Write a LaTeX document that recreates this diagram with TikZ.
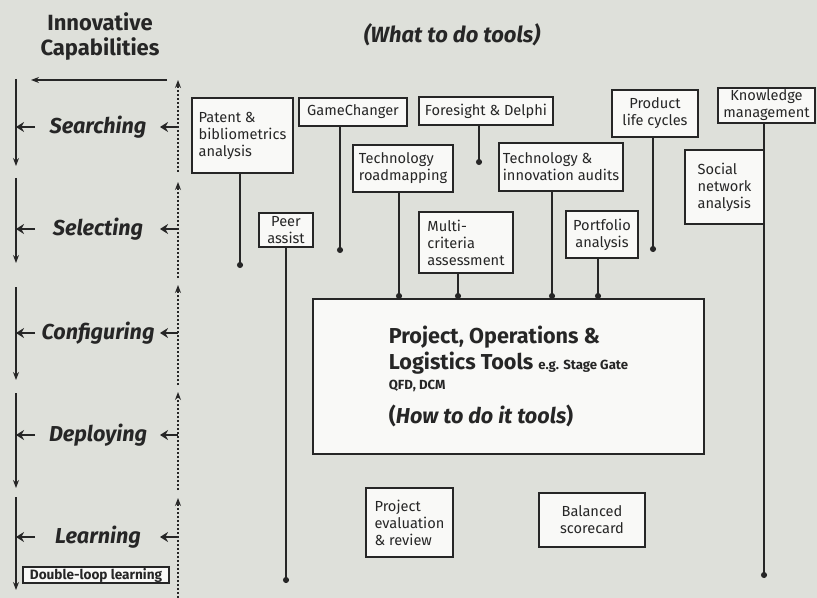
\documentclass[tikz,border=0pt]{standalone}
\usepackage{fontspec}
\setmainfont{Fira Sans}
\usetikzlibrary{arrows.meta}
\definecolor{PaperGray}{RGB}{222,224,218}
\definecolor{BoxWhite}{RGB}{249,249,247}
\definecolor{InkGray}{RGB}{38,38,38}

\begin{document}
\begin{tikzpicture}[
 x=0.5pt, y=-0.5pt,
 tool/.style={draw=InkGray, line width=0.6pt, fill=BoxWhite, text=InkGray, inner sep=1pt, font=\fontsize{7.3}{8.5}\selectfont},
 stem/.style={draw=InkGray, line width=0.7pt, -{Circle[length=3pt]}},
 stage/.style={text=InkGray, font=\fontsize{10.8}{12}\selectfont\bfseries\itshape},
 down/.style={draw=InkGray, line width=0.6pt, -{Stealth[length=4pt,width=3pt]}},
 up/.style={draw=InkGray, line width=0.6pt, dash pattern=on 1.2pt off 0.8pt, -{Stealth[length=4pt,width=3pt]}},
 point/.style={draw=InkGray, line width=1.3pt, -{Stealth[length=4pt,width=5pt]}}
]
\fill[PaperGray] (0,0) rectangle (817,598);
\useasboundingbox (0,0) rectangle (817,598);

% headings
\node[text=InkGray, font=\fontsize{11}{12.5}\selectfont\bfseries, align=center] (capab) at (100,37) {Innovative\\Capabilities};
\node[text=InkGray, font=\fontsize{11}{12}\selectfont\bfseries\itshape] (whattodo) at (452,35) {(What to do tools)};

% capability column
\coordinate (topstart) at (167,80);
\coordinate (topend) at (31,80);
\draw[down] (topstart) -- (topend);
\foreach \a/\b in {79/166, 178/263, 287/380, 393/488, 497/590} {
  \coordinate (ltop\a) at (16,\a);
  \coordinate (lbot\a) at (16,\b);
  \draw[down] (ltop\a) -- (lbot\a);
}
\foreach \a/\b in {598/498, 490/392, 385/285, 278/182, 172/80} {
  \coordinate (rbot\a) at (178,\a);
  \coordinate (rtop\a) at (178,\b);
  \draw[up] (rbot\a) -- (rtop\a);
}
\foreach \name/\word/\y in {search/Searching/127, select/Selecting/229, config/Configuring/333, deploy/Deploying/435, learn/Learning/537} {
  \node[stage] (\name) at (98,\y) {\word};
  \coordinate (l\name) at (16,\y);
  \coordinate (r\name) at (178,\y);
  \draw[point] ([xshift=9.5pt]l\name) -- (l\name);
  \draw[point] (r\name) -- ([xshift=-9pt]r\name);
}
\node[tool, font=\fontsize{6.8}{7}\selectfont\bfseries, minimum width=73pt, minimum height=8pt, inner sep=0pt] (dloop) at (96,575) {Double-loop learning};

% what to do tools
\node[tool, align=left, minimum width=50.5pt, minimum height=37.5pt] (patent) at (242.5,135.5) {Patent \&\\bibliometrics\\analysis};
\node[tool, minimum width=54pt, minimum height=14pt] (gamechanger) at (353,112) {GameChanger};
\node[tool, minimum width=67pt, minimum height=14pt] (foresight) at (486,111) {Foresight \& Delphi};
\node[tool, align=left, minimum width=50pt, minimum height=23.5pt] (roadmap) at (403,168.5) {Technology\\roadmapping};
\node[tool, align=center, minimum width=27pt, minimum height=17pt] (peer) at (286,230) {Peer\\assist};
\node[tool, align=left, minimum width=47pt, minimum height=30.5pt] (multi) at (466,242.5) {Multi-\\criteria\\assessment};
\node[tool, align=left, minimum width=62pt, minimum height=24pt] (audits) at (561,167) {Technology \&\\innovation audits};
\node[tool, align=center, minimum width=36pt, minimum height=23.5pt] (portfolio) at (602,234.5) {Portfolio\\analysis};
\node[tool, align=center, minimum width=43pt, minimum height=23.5pt] (product) at (655,113.5) {Product\\life cycles};
\node[tool, align=center, minimum width=48.5pt, minimum height=16.5pt] (knowledge) at (766.5,105.5) {Knowledge\\management};
\node[tool, align=left, minimum width=39.5pt, minimum height=37pt] (social) at (724.5,187) {Social\\network\\analysis};

% how to do it tools
\node[tool, align=left, minimum width=195.5pt, minimum height=77.5pt, font=\fontsize{10.8}{13}\selectfont\bfseries] (main) at (508.5,376.5)
  {Project, Operations \&\\Logistics Tools {\fontsize{6.6}{7}\selectfont e.g. Stage Gate}\\[-3pt]
   {\fontsize{6.6}{7}\selectfont QFD, DCM}\\[4pt]
   (\textit{How to do it tools})};
\node[tool, align=left, minimum width=43.5pt, minimum height=34.5pt] (review) at (409.5,522.5) {Project\\evaluation\\\& review};
\node[tool, align=center, minimum width=53pt, minimum height=27pt] (balanced) at (592,520) {Balanced\\scorecard};

% stems
\coordinate (patdot) at (240,268);
\coordinate (gcdot) at (340,253);
\coordinate (fsdot) at (479,165);
\coordinate (pldot) at (653,252);
\coordinate (padot) at (286,583);
\coordinate (kmdot) at (764,578);
\coordinate (rmdot) at (399,299);
\coordinate (mcdot) at (458,299);
\coordinate (audot) at (552,299);
\coordinate (pfdot) at (598,299);
\draw[stem] (patent.south -| patdot) -- (patdot);
\draw[stem] (gamechanger.south -| gcdot) -- (gcdot);
\draw[stem] (foresight.south -| fsdot) -- (fsdot);
\draw[stem] (product.south -| pldot) -- (pldot);
\draw[stem] (peer.south -| padot) -- (padot);
\draw[stem] (knowledge.south -| kmdot) -- (kmdot);
\draw[stem] (roadmap.south -| rmdot) -- (rmdot);
\draw[stem] (multi.south -| mcdot) -- (mcdot);
\draw[stem] (audits.south -| audot) -- (audot);
\draw[stem] (portfolio.south -| pfdot) -- (pfdot);
\end{tikzpicture}
\end{document}
